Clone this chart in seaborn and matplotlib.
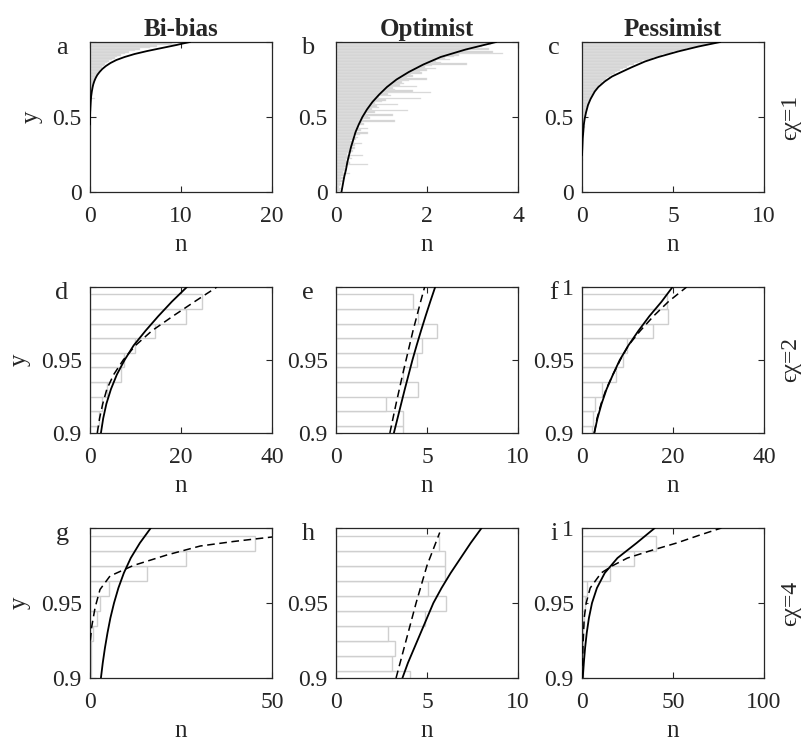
import numpy as np
import matplotlib
matplotlib.use('Agg')
import matplotlib.pyplot as plt
import seaborn as sns

# ---- data ------------------------------------------------------------------
# row 1: 100 bins of width 0.01 on y in [0, 1]
y_fine = np.round(np.arange(100) * 0.01 + 0.005, 3)

a_bars = [0] * 30 + \
    [0, 0, 0, 0, 0, 0, 0.02, 0, 0, 0] + \
    [0, 0.03, 0, 0, 0.05, 0, 0, 0.04, 0, 0.05] + \
    [0.03, 0.05, 0.06, 0.04, 0.08, 0.06, 0.1, 0.08, 0.12, 0.1] + \
    [0.14, 0.1, 0.55, 0.16, 0.2, 0.18, 0.25, 0.22, 0.3, 0.28] + \
    [0.35, 0.32, 0.42, 0.45, 0.5, 0.55, 0.62, 0.7, 0.78, 0.85] + \
    [0.95, 1.05, 1.2, 1.35, 1.5, 1.7, 1.9, 2.1, 2.4, 2.7] + \
    [3.0, 3.4, 3.8, 4.3, 4.9, 5.5, 6.6, 7.4, 9.5, 9.0]
b_bars = [0.05, 0.08, 0.1, 0.06, 0.09, 0.12, 0.08, 0.15, 0.1, 0.2] + \
    [0.12, 0.18, 0.3, 0.15, 0.22, 0.2, 0.18, 0.25, 0.7, 0.3] + \
    [0.28, 0.22, 0.35, 0.3, 0.59, 0.25, 0.32, 0.38, 0.3, 0.42] + \
    [0.35, 0.42, 0.57, 0.4, 0.3, 0.45, 0.49, 0.38, 0.52, 0.71] + \
    [0.45, 0.55, 0.71, 0.5, 0.48, 0.62, 0.58, 1.29, 0.6, 0.75] + \
    [0.7, 1.26, 0.65, 0.85, 1.59, 0.8, 0.95, 0.9, 1.37, 0.85] + \
    [1.0, 1.1, 1.87, 0.95, 1.2, 1.15, 2.09, 1.69, 1.3, 1.25] + \
    [1.77, 1.4, 1.5, 1.45, 1.6, 1.99, 1.55, 1.7, 1.65, 1.9] + \
    [1.85, 2.0, 2.2, 1.95, 2.1, 2.87, 2.3, 2.2, 2.5, 2.4] + \
    [2.6, 2.7, 3.66, 3.44, 2.9, 3.37, 3.1, 3.2, 3.4, 3.45]
c_bars = [0] * 10 + \
    [0, 0, 0, 0, 0, 0, 0, 0, 0.02, 0] + \
    [0, 0.03, 0, 0, 0.02, 0, 0.04, 0, 0.03, 0.05] + \
    [0.03, 0.06, 0.04, 0.05, 0.07, 0.05, 0.08, 0.06, 0.1, 0.08] + \
    [0.1, 0.12, 0.09, 0.14, 0.12, 0.15, 0.13, 0.17, 0.15, 0.18] + \
    [0.2, 0.18, 0.24, 0.22, 0.27, 0.3, 0.28, 0.33, 0.36, 0.35] + \
    [0.4, 0.44, 0.42, 0.5, 0.55, 0.6, 0.62, 0.7, 0.75, 0.82] + \
    [0.9, 0.95, 1.05, 1.1, 1.2, 1.3, 1.4, 1.55, 1.65, 1.8] + \
    [1.95, 2.1, 2.25, 2.45, 2.6, 2.85, 3.1, 3.3, 3.6, 3.9] + \
    [4.1, 4.4, 4.7, 5.0, 5.3, 5.7, 6.1, 6.5, 6.9, 7.2]

a_cy = [0.45, 0.48, 0.52, 0.56, 0.60, 0.64, 0.67, 0.70, 0.72, 0.74, 0.76, 0.78,
        0.80, 0.82, 0.84, 0.86, 0.88, 0.90, 0.92, 0.94, 0.96, 0.98, 0.99, 1.0]
a_cn = [0.0, 0.0, 0.01, 0.04, 0.08, 0.13, 0.2, 0.29, 0.37, 0.48, 0.62, 0.8,
        1.05, 1.35, 1.75, 2.25, 2.9, 3.8, 4.9, 6.3, 7.9, 9.5, 10.2, 11.0]
b_cy = [0.0, 0.05, 0.1, 0.15, 0.2, 0.25, 0.3, 0.35, 0.4, 0.45, 0.5,
        0.55, 0.6, 0.65, 0.7, 0.75, 0.8, 0.85, 0.9, 0.95, 1.0]
b_cn = [0.12, 0.15, 0.18, 0.22, 0.25, 0.29, 0.33, 0.38, 0.43, 0.5, 0.58,
        0.68, 0.8, 0.95, 1.12, 1.33, 1.6, 1.92, 2.3, 2.85, 3.52]
c_cy = [0.245, 0.3, 0.357, 0.4, 0.45, 0.49, 0.53, 0.58, 0.62, 0.67, 0.7,
        0.737, 0.77, 0.8, 0.83, 0.87, 0.9, 0.9375, 0.97, 1.0]
c_cn = [0.0, 0.02, 0.04, 0.07, 0.1, 0.15, 0.22, 0.33, 0.47, 0.7, 0.9,
        1.25, 1.65, 2.17, 2.7, 3.46, 4.2, 5.3, 6.4, 7.6]

# rows 2-3: bins of width 0.01 centred on 0.90 ... 0.99
y_coarse = [0.90, 0.91, 0.92, 0.93, 0.94, 0.95, 0.96, 0.97, 0.98, 0.99]
y_curve = [0.90, 0.91, 0.92, 0.93, 0.94, 0.95, 0.96, 0.97, 0.98, 0.99, 1.0]

d_bars = [1.5, 2.0, 2.6, 3.7, 6.8, 7.5, 9.9, 14.3, 21.2, 24.6]
d_solid = [2.4, 2.9, 3.6, 4.6, 5.9, 7.6, 9.6, 12.2, 15.0, 18.0, 21.3]
d_dash = [1.6, 2.1, 2.8, 3.7, 5.2, 7.3, 10.0, 13.6, 18.2, 23.0, 27.9]

e_bars = [3.7, 3.7, 2.73, 4.5, 3.7, 4.47, 4.75, 5.56, 4.5, 4.24]
e_solid = [3.18, 3.38, 3.58, 3.78, 3.99, 4.2, 4.43, 4.67, 4.92, 5.18, 5.45]
e_dash = [2.96, 3.13, 3.3, 3.48, 3.66, 3.85, 4.04, 4.23, 4.44, 4.65, 4.87]

f_bars = [2.2, 2.4, 2.9, 4.4, 7.5, 9.0, 9.9, 15.5, 18.8, 18.6]
f_solid = [2.7, 3.4, 4.3, 5.4, 6.8, 8.3, 10.2, 12.4, 14.8, 17.5, 19.9]
f_dash = [2.7, 3.3, 4.2, 5.3, 6.8, 8.4, 10.2, 12.8, 15.7, 19.0, 23.0]

g_bars = [0.2, 0.2, 0.2, 0.9, 1.8, 2.75, 5.2, 15.7, 26.3, 45.4]
g_solid = [3.0, 3.5, 4.1, 4.8, 5.6, 6.6, 7.8, 9.3, 11.2, 13.7, 16.7]
g_dash_y = [0.925, 0.934, 0.947, 0.959, 0.968, 0.975, 0.982, 0.988, 0.991, 0.994, 0.996]
g_dash = [0.1, 0.46, 1.4, 2.75, 5.5, 11.9, 21.1, 30.3, 39.4, 50.0, 56.0]

h_bars = [4.05, 3.05, 3.24, 2.87, 4.87, 6.05, 5.05, 6.0, 6.0, 5.64]
h_solid = [3.65, 3.95, 4.3, 4.65, 5.0, 5.35, 5.8, 6.3, 6.85, 7.4, 8.0]
h_dash_y = [0.90, 0.925, 0.95, 0.975, 0.997]
h_dash = [3.3, 3.85, 4.4, 5.0, 5.7]

i_bars = [0.3, 0.4, 0.5, 0.8, 1.3, 1.8, 2.7, 15.5, 28.6, 40.7]
i_solid = [0.4, 1.0, 1.7, 2.6, 3.8, 5.5, 8.2, 12.5, 19.5, 30.0, 40.0]
i_dash_y = [0.90, 0.92, 0.94, 0.95, 0.96, 0.97, 0.975, 0.98, 0.985, 0.99, 0.995, 1.0]
i_dash = [0.2, 0.5, 1.2, 2.3, 4.5, 10.5, 17.0, 25.0, 38.0, 52.0, 64.0, 76.6]

col_titles = ['Bi-bias', 'Optimist', 'Pessimist']
row_labels = ['\u03f5\u03c7=1', '\u03f5\u03c7=2', '\u03f5\u03c7=4']

# ---- styling -------------------------------------------------------------
sns.set_theme(style='ticks')
plt.rcParams['font.family'] = ['Liberation Serif', 'DejaVu Serif']
plt.rcParams['mathtext.fontset'] = 'stix'

W, H = 805, 744
fig = plt.figure(figsize=(W / 100, H / 100), dpi=100)

col_left = [90, 336, 582]
col_w = 182
row_top = [42, 287, 528]
row_h = [150, 146, 150]

panels = [
    # letter, bar centres, bars, solid (y, n), dashed (y, n), xmax, xticks, top y label
    ('a', y_fine, a_bars, (a_cy, a_cn), None, 20, [0, 10, 20], None),
    ('b', y_fine, b_bars, (b_cy, b_cn), None, 4, [0, 2, 4], None),
    ('c', y_fine, c_bars, (c_cy, c_cn), None, 10, [0, 5, 10], None),
    ('d', y_coarse, d_bars, (y_curve, d_solid), (y_curve, d_dash), 40, [0, 20, 40], ''),
    ('e', y_coarse, e_bars, (y_curve, e_solid), (y_curve, e_dash), 10, [0, 5, 10], ''),
    ('f', y_coarse, f_bars, (y_curve, f_solid), (y_curve, f_dash), 40, [0, 20, 40], '1'),
    ('g', y_coarse, g_bars, (y_curve, g_solid), (g_dash_y, g_dash), 50, [0, 50], ''),
    ('h', y_coarse, h_bars, (y_curve, h_solid), (h_dash_y, h_dash), 10, [0, 5, 10], ''),
    ('i', y_coarse, i_bars, (y_curve, i_solid), (i_dash_y, i_dash), 100, [0, 50, 100], '1'),
]

for k, (letter, yc, bars, solid, dashed, xmax, xticks, top_lab) in enumerate(panels):
    r, c = divmod(k, 3)
    ax = fig.add_axes([col_left[c] / W, 1 - (row_top[r] + row_h[r]) / H,
                       col_w / W, row_h[r] / H])
    if r == 0:
        ax.barh(yc, bars, height=0.01, color='#d2d2d2', edgecolor='#e4e4e4',
                linewidth=0.3, zorder=1)
    else:
        ax.barh(yc, bars, height=0.01, color='white', edgecolor='#cfcfcf',
                linewidth=1.0, zorder=1)
    sns.lineplot(x=solid[1], y=solid[0], ax=ax, color='black', lw=1.3,
                 orient='y', estimator=None, zorder=3)
    if dashed is not None:
        sns.lineplot(x=dashed[1], y=dashed[0], ax=ax, color='black', lw=1.1,
                     linestyle=(0, (5, 3)), orient='y', estimator=None, zorder=3)

    ax.set_xlim(0, xmax)
    ax.set_xticks(xticks)
    ax.set_xticklabels([str(t) for t in xticks])
    if r == 0:
        ax.set_ylim(0, 1)
        ax.set_yticks([0, 0.5, 1])
        ax.set_yticklabels(['0', '0.5', ''])
    else:
        ax.set_ylim(0.9, 1)
        ax.set_yticks([0.9, 0.95, 1])
        ax.set_yticklabels(['0.9', '0.95', top_lab])

    ax.tick_params(direction='in', length=4, width=0.8, top=True, right=True,
                   labelsize=17, colors='#262626')
    ax.tick_params(axis='x', pad=10)
    ax.tick_params(axis='y', pad=6)
    for sp in ax.spines.values():
        sp.set_color('#262626')
        sp.set_linewidth(0.9)

    ax.set_xlabel('n', fontsize=18, labelpad=5)
    if c == 0:
        ax.set_ylabel('y', fontsize=18, labelpad=7)
    else:
        ax.set_ylabel('')
    if r == 0:
        ax.set_title(col_titles[c], fontsize=18, fontweight='bold', pad=4)

    fig.text((col_left[c] - 28) / W, 1 - (row_top[r] + 12) / H, letter,
             fontsize=19, ha='center', va='baseline')

for r in range(3):
    fig.text(791 / W, 1 - (row_top[r] + row_h[r] / 2) / H, row_labels[r],
             fontsize=17, rotation=90, ha='center', va='center')

fig.savefig('out.png', dpi=100)
